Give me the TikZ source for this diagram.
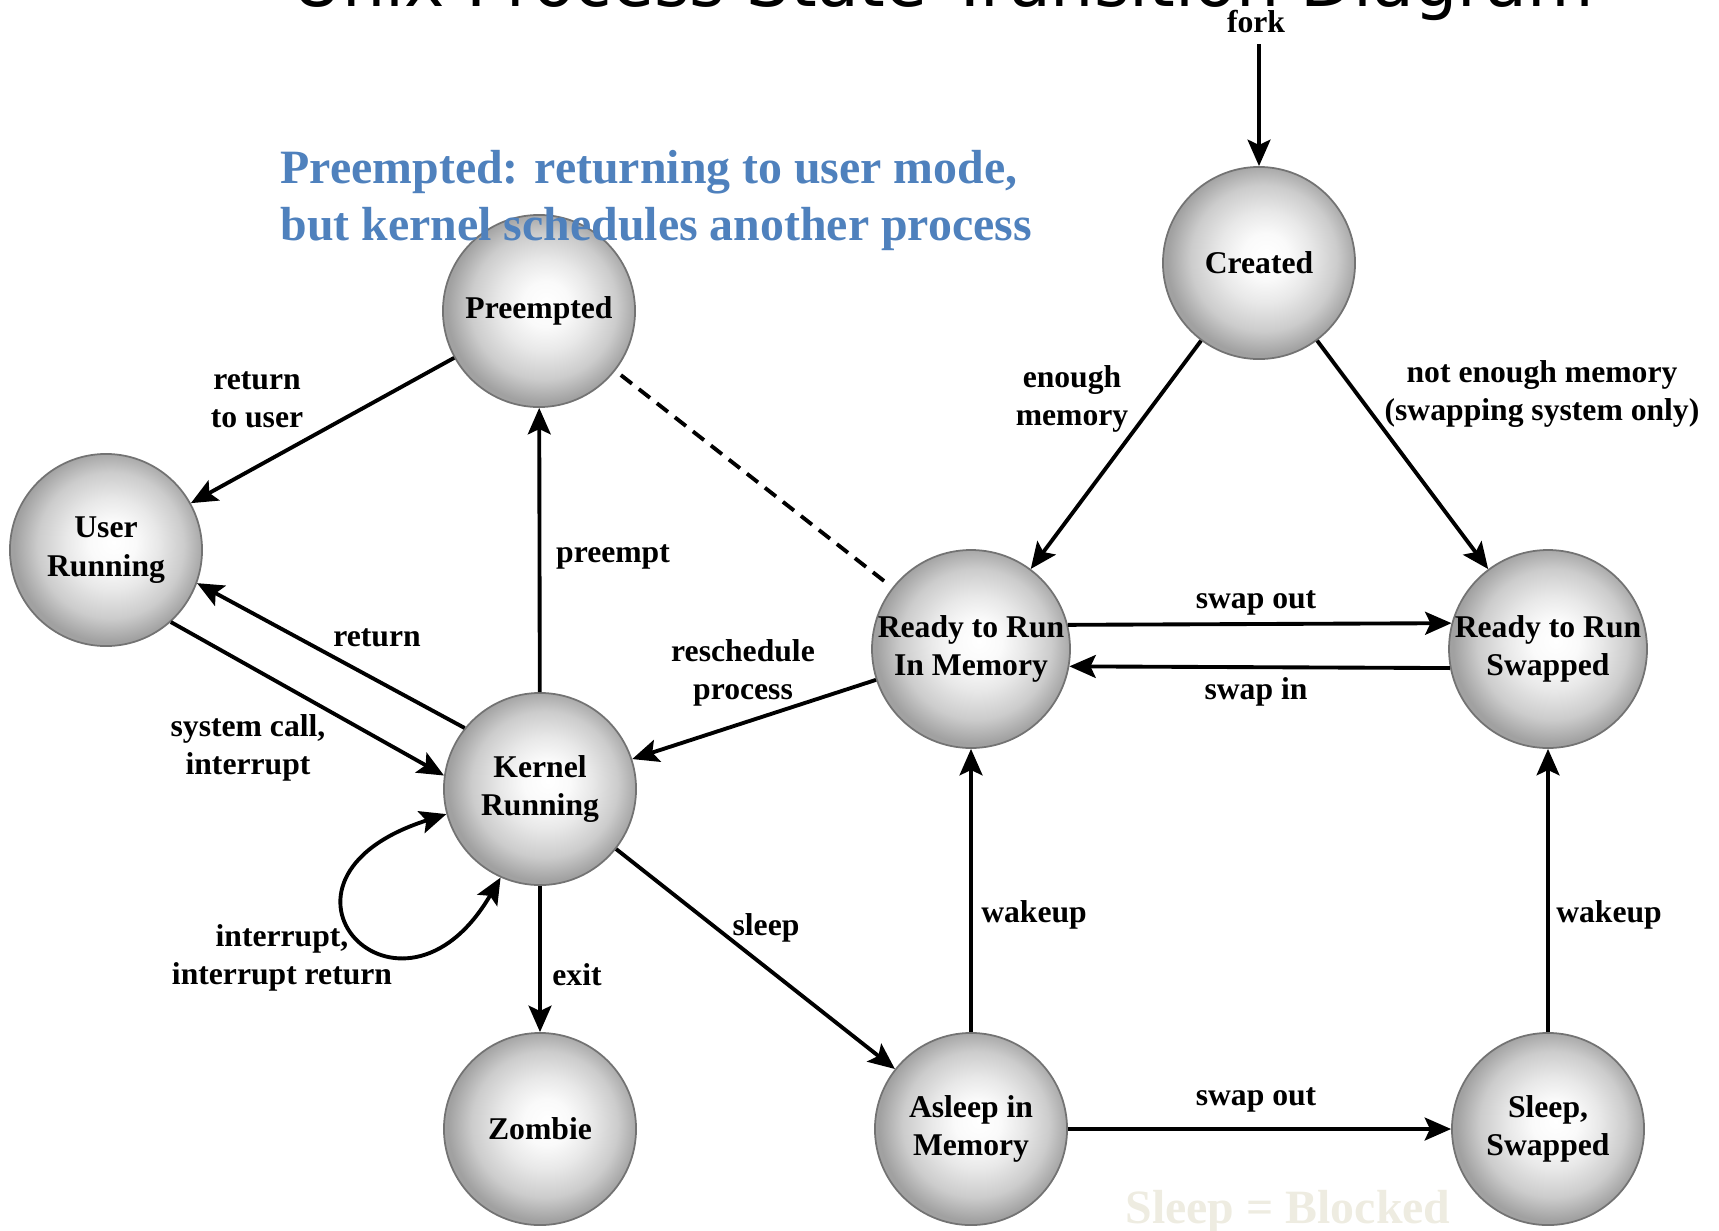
\documentclass[tikz,border=0pt]{standalone}
\usepackage{fontspec}
\setmainfont{Liberation Serif}
\newfontfamily\titlefont{DejaVu Sans}
\usetikzlibrary{arrows.meta,calc}

% soft grey sphere used for every state
\pgfdeclareradialshading{sphere}{\pgfpoint{2bp}{2bp}}{%
  color(0bp)=(white); color(6bp)=(black!2); color(12bp)=(black!9);
  color(19bp)=(black!20); color(25bp)=(black!37); color(50bp)=(black!37)}

\definecolor{noteblue}{RGB}{79,129,189}
\definecolor{notebeige}{RGB}{238,236,225}

\tikzset{
  state/.style={circle, minimum size=1.92cm, inner sep=0pt, draw=black!55,
    line width=0.5pt, shading=sphere, align=center,
    font=\bfseries\fontsize{9}{10.9}\selectfont},
  tr/.style={line width=1.1pt, -{Stealth[length=7.5pt,width=6.5pt,inset=1.5pt]}},
  trboth/.style={line width=1.1pt,
    {Stealth[length=7.5pt,width=6.5pt,inset=1.5pt]}-{Stealth[length=7.5pt,width=6.5pt,inset=1.5pt]}},
  dashline/.style={line width=1.1pt, dash pattern=on 4pt off 2.5pt,
    shorten <=2pt, shorten >=2pt},
  lbl/.style={align=center, inner sep=0pt, font=\bfseries\fontsize{9}{10.9}\selectfont},
  note/.style={inner sep=0pt, align=left, font=\bfseries\fontsize{13.6}{16.2}\selectfont}
}

\begin{document}
\begin{tikzpicture}[x=0.01cm, y=-0.01cm]
\useasboundingbox (0,0) rectangle (1719,1230);

% heading, partly above the page edge
\node[font=\titlefont\fontsize{19.4}{23}\selectfont, anchor=base, inner sep=0pt]
  (title) at (943,6) {Unix Process State Transition Diagram};

% states
\node[state] (created) at (1259,263) {Created};
\node[state] (pre)     at (539,311)  {Preempted};
\node[state] (user)    at (106,550)  {User\\Running};
\node[state] (kern)    at (540,789)  {Kernel\\Running};
\node[state] (rmem)    at (971,649)  {Ready to Run\\In Memory};
\node[state] (rswap)   at (1548,649) {Ready to Run\\Swapped};
\node[state] (zombie)  at (540,1129) {Zombie};
\node[state] (asleep)  at (971,1129) {Asleep in\\Memory};
\node[state] (sswap)   at (1548,1129) {Sleep,\\Swapped};

% transitions
\coordinate (forkstart) at (1259,44);
\draw[tr] (forkstart) -- (created);
\draw[tr] (created) -- (rmem);
\draw[tr] (created) -- (rswap);
\draw[tr] (rmem.14.5) -- (rswap.165.5);
\draw[tr] (rswap.-169.2) -- (rmem.-10.8);
\draw[tr] (pre) -- (user);
\draw[tr] (kern) -- (pre);
\draw[dashline] (pre) -- (rmem);
\draw[tr] (kern.141.8) -- (user.-20.6);
\draw[tr] (user.-48.9) -- (kern.172.3);
\draw[tr] (rmem) -- (kern);
\draw[trboth] (kern.195) .. controls (240,880) and (400,1050) .. (kern.246);
\draw[tr] (kern) -- (zombie);
\draw[tr] (kern) -- (asleep);
\draw[tr] (asleep) -- (rmem);
\draw[tr] (asleep) -- (sswap);
\draw[tr] (sswap) -- (rswap);

% transition labels
\node[lbl] (l-fork)   at (1256,22)  {fork};
\node[lbl] (l-enough) at (1072,399) {enough\\memory};
\node[lbl] (l-notenough) at (1542,394) {not enough memory\\(swapping system only)};
\node[lbl] (l-swapout) at (1256,603) {swap out};
\node[lbl] (l-swapin)  at (1256,692) {swap in};
\node[lbl] (l-rtu)     at (257,400)  {return\\to user};
\node[lbl] (l-preempt) at (613,557)  {preempt};
\node[lbl] (l-return)  at (377,638)  {return};
\node[lbl] (l-syscall) at (248,748)  {system call,\\interrupt};
\node[lbl] (l-resched) at (743,673)  {reschedule\\process};
\node[lbl] (l-intr)    at (282,958)  {interrupt,\\interrupt return};
\node[lbl] (l-exit)    at (577,975)  {exit};
\node[lbl] (l-sleep)   at (766,928)  {sleep};
\node[lbl] (l-wake1)   at (1034,915) {wakeup};
\node[lbl] (l-wake2)   at (1609,915) {wakeup};
\node[lbl] (l-swapout2) at (1256,1100) {swap out};

% notes
\node[note, text=noteblue, anchor=north west] (note-pre) at (280,150)
  {Preempted: returning to user mode,\\but kernel schedules another process};
\node[note, text=notebeige, anchor=base] (note-sleep) at (1288,1223) {Sleep = Blocked};
\end{tikzpicture}
\end{document}
